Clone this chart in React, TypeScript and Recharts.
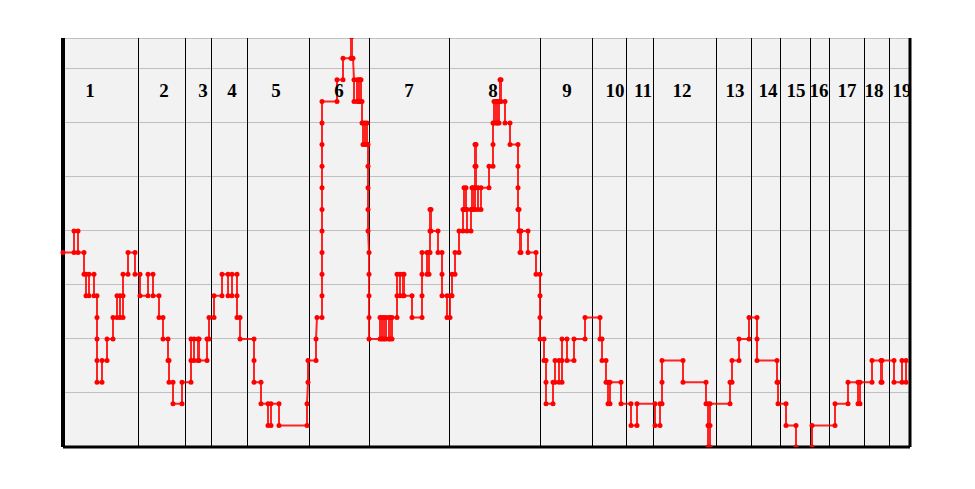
import React from 'react';
import {
  LineChart,
  Line,
  XAxis,
  YAxis,
  CartesianGrid,
  ReferenceLine,
  ReferenceDot,
} from 'recharts';

// step walk: [time, level]
const walk: [number, number][] = [
  [0, 9], [11, 9], [11, 10], [15, 10], [15, 9], [21, 9], [21, 8], [23, 8], [23, 7], [26, 7], [26, 8],
  [31, 8], [31, 7], [34, 7], [34, 6], [34, 5], [34, 4], [34, 3], [39, 3], [39, 4], [44, 4], [44, 5],
  [50, 5], [50, 6], [54, 6], [54, 7], [57, 7], [57, 6], [60, 6], [60, 7], [60, 8], [65, 8], [65, 9],
  [72, 9], [72, 8], [77, 8], [77, 7], [85, 7], [85, 8], [90, 8], [90, 7], [96, 7], [96, 6], [100, 6],
  [100, 5], [105, 5], [105, 4], [106, 4], [106, 3], [110, 3], [110, 2], [119, 2], [119, 3], [128, 3],
  [128, 4], [128, 5], [131, 5], [131, 4], [135, 4], [135, 5], [136, 5], [136, 4], [144, 4], [144, 5],
  [146, 5], [146, 6], [151, 6], [151, 7], [159, 7], [159, 8], [165, 8], [165, 7], [169, 7], [169, 8],
  [174, 8], [174, 7], [174, 6], [177, 6], [177, 5], [191, 5], [191, 4], [191, 3], [198, 3], [198, 2],
  [205, 2], [205, 1], [208, 1], [208, 2], [216, 2], [216, 1], [244, 1], [244, 2], [245, 3], [245, 4],
  [253, 4], [253, 5], [254, 6], [259, 6], [259, 7], [259, 8], [259, 9], [259, 10], [259, 11], [259, 12],
  [259, 13], [259, 14], [259, 15], [259, 16], [274, 16], [274, 17], [280, 17], [280, 18], [288, 18],
  [288, 19], [288, 20], [289, 20], [289, 19], [289, 18], [290, 18], [291, 17], [291, 16], [294, 16],
  [294, 17], [296, 17], [296, 16], [297, 16], [297, 17], [298, 17], [298, 16], [299, 16], [299, 15],
  [300, 15], [300, 14], [302, 14], [302, 15], [304, 15], [304, 14], [305, 14], [305, 13], [305, 12],
  [305, 11], [305, 10], [306, 9], [306, 8], [306, 7], [306, 6], [306, 5],
  [317, 5], [317, 6], [319, 6], [319, 5], [321, 5], [321, 6], [323, 6], [323, 5], [326, 5], [326, 6],
  [327, 6], [327, 5], [329, 5], [329, 6], [334, 6], [334, 7], [334, 8], [337, 8], [337, 7], [340, 7],
  [340, 8], [341, 8], [341, 7], [349, 7], [349, 6], [359, 6], [359, 7], [359, 8], [359, 9], [364, 9],
  [364, 8], [366, 8], [366, 9], [367, 9], [367, 10], [367, 11], [368, 11], [368, 10], [375, 10],
  [375, 9], [379, 9], [379, 8], [379, 7], [384, 7], [384, 6], [387, 6], [387, 7], [389, 7], [389, 8],
  [392, 8], [392, 9], [396, 9], [396, 10], [400, 10], [400, 11], [401, 11], [401, 12], [403, 12],
  [403, 11], [404, 11], [404, 10], [408, 10], [408, 11], [409, 11], [409, 12], [410, 12], [410, 11],
  [412, 11], [412, 12], [412, 13], [412, 14], [413, 14], [413, 13], [413, 12], [415, 12], [415, 11],
  [418, 11], [418, 12], [426, 12], [426, 13], [430, 13], [430, 14], [430, 15], [431, 15], [431, 16],
  [433, 16], [433, 15], [434, 15], [434, 16], [435, 16], [435, 15], [436, 15], [436, 16], [437, 16],
  [437, 17], [438, 17], [438, 16], [442, 16], [442, 15], [447, 15], [447, 14], [455, 14], [455, 13],
  [455, 12], [455, 11], [456, 11], [456, 10], [457, 10], [457, 9], [458, 9], [458, 10], [465, 10],
  [465, 9], [473, 9], [473, 8], [477, 8], [477, 7], [477, 6], [477, 5],
  [481, 5], [481, 4], [483, 4], [483, 3], [483, 2], [490, 2], [490, 3], [492, 3], [492, 4], [496, 4],
  [496, 3], [499, 3], [499, 4], [499, 5], [504, 5], [504, 4], [511, 4], [511, 5], [522, 5], [522, 6],
  [537, 6], [537, 5], [539, 5], [539, 4], [543, 4], [543, 3], [545, 3], [545, 2], [547, 2], [547, 3],
  [558, 3], [558, 2], [568, 2], [568, 1], [574, 1], [574, 2], [592, 2], [592, 1], [597, 1], [597, 2],
  [599, 2], [599, 3], [599, 4], [620, 4], [620, 3], [643, 3], [643, 2], [645, 2], [645, 1], [645, 0],
  [647, 0], [647, 1], [647, 2], [667, 2], [667, 3], [669, 3], [669, 4], [676, 4], [676, 5], [686, 5],
  [686, 6], [694, 6], [694, 5], [694, 4], [714, 4], [714, 3], [715, 3], [715, 2], [723, 2], [723, 1],
  [733, 1], [733, 0], [749, 0], [749, 1], [772, 1], [772, 2], [785, 2], [785, 3], [795, 3], [795, 2],
  [797, 2], [797, 3], [809, 3], [809, 4], [818, 4], [818, 3], [819, 3], [819, 4], [831, 4], [831, 3],
  [839, 3], [839, 4], [843, 4], [843, 3],
];

// section boundaries and labels
const sectionBreaks = [75, 122, 148, 184, 246, 306, 386, 477, 529, 563, 590, 653, 688, 717, 747, 766, 801, 826];
const sectionNames = ['1', '2', '3', '4', '5', '6', '7', '8', '9', '10', '11', '12', '13', '14', '15', '16', '17', '18', '19'];
const sectionLabelAt = [27, 101, 140, 169, 213, 276, 346, 430, 504, 552, 580, 619, 672, 705, 733, 756, 784, 811, 839];

const gridLevels = [2.5, 5, 7.5, 10, 12.5, 15, 17.5];
const timeEnd = 847;
const levelTop = 18.935;
const labelLevel = 16.53;

const data = walk.map(([t, level]) => ({ t, level }));

export default function App() {
  return (
    <div style={{ position: 'absolute', left: 0, top: 0, background: '#fff' }}>
      <LineChart
        width={975}
        height={489}
        data={data}
        margin={{ top: 38, right: 65, bottom: 42, left: 63 }}
      >
        <CartesianGrid vertical={false} stroke="#c0c0c0" fill="#f2f2f2" fillOpacity={1} shapeRendering="crispEdges" />
        <XAxis type="number" dataKey="t" domain={[0, timeEnd]} hide />
        <YAxis type="number" domain={[0, levelTop]} ticks={gridLevels} allowDataOverflow hide />
        {sectionBreaks.map((b) => (
          <ReferenceLine key={b} x={b} stroke="#000" strokeWidth={1} shapeRendering="crispEdges" />
        ))}
        <Line
          type="linear"
          dataKey="level"
          stroke="#ff0000"
          strokeOpacity={0.85}
          strokeWidth={2}
          dot={{ r: 2.5, fill: '#ff0000', stroke: 'none' }}
          isAnimationActive={false}
        />
        <ReferenceLine x={0} stroke="#000" strokeWidth={4} />
        <ReferenceLine x={timeEnd} stroke="#000" strokeWidth={3} />
        <ReferenceLine y={0} stroke="#000" strokeWidth={3} />
        {sectionNames.map((name, i) => (
          <ReferenceDot
            key={name}
            x={sectionLabelAt[i]}
            y={labelLevel}
            r={0}
            fill="none"
            stroke="none"
            label={{
              value: name,
              position: 'center',
              fill: '#000',
              fontSize: 19,
              fontWeight: 'bold',
              fontFamily: '"Liberation Serif", "Times New Roman", serif',
            }}
          />
        ))}
      </LineChart>
    </div>
  );
}
